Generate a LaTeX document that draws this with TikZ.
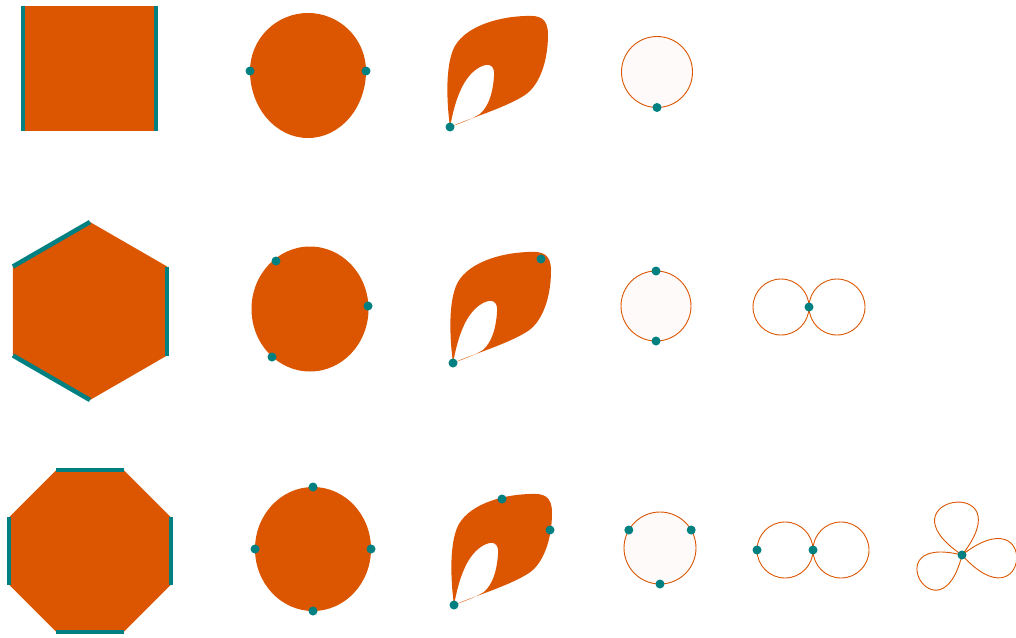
\documentclass[tikz,border=0pt]{standalone}
\usetikzlibrary{calc}

\definecolor{shapeorange}{RGB}{220,85,0}
\definecolor{edgeteal}{RGB}{0,128,128}
\definecolor{palefill}{RGB}{254,250,250}

\begin{document}
\begin{tikzpicture}[
    x=1pt, y=-1pt,
    solid/.style={
        fill=shapeorange
    },
    rim/.style={
        draw=edgeteal,
        line width=4.5pt
    },
    outline/.style={
        draw=shapeorange,
        line width=0.9pt
    },
    dot/.style={
        circle,
        fill=edgeteal,
        inner sep=0pt,
        minimum size=9pt
    }
]

\useasboundingbox (0,0) rectangle (1016,637);

% ------------------------------------------------------------------
% Polygons with marked edges
% ------------------------------------------------------------------

\coordinate (sqnw) at (23,6);
\coordinate (sqne) at (156,6);
\coordinate (sqse) at (156,131);
\coordinate (sqsw) at (23,131);

\fill[solid] (sqnw) rectangle (sqse);
\draw[rim] (sqnw) -- (sqsw);
\draw[rim] (sqne) -- (sqse);

\foreach \k in {0,...,5}
    \coordinate (hex\k) at ($(90,311)+({-90+60*\k}:89)$);

\fill[solid] (hex0) -- (hex1) -- (hex2) -- (hex3) -- (hex4) -- (hex5) -- cycle;
\draw[rim] (hex5) -- (hex0);
\draw[rim] (hex1) -- (hex2);
\draw[rim] (hex3) -- (hex4);

\foreach \k in {0,...,7}
    \coordinate (oct\k) at ($(90,551)+({22.5+45*\k}:87.7)$);

\fill[solid] (oct0) -- (oct1) -- (oct2) -- (oct3) -- (oct4) -- (oct5)
    -- (oct6) -- (oct7) -- cycle;
\draw[rim] (oct7) -- (oct0);
\draw[rim] (oct1) -- (oct2);
\draw[rim] (oct3) -- (oct4);
\draw[rim] (oct5) -- (oct6);

% ------------------------------------------------------------------
% Discs
% ------------------------------------------------------------------

\fill[solid] (250,71) .. controls (250,39) and (276,13) .. (308,13)
    .. controls (340,13) and (366,39) .. (366,71)
    .. controls (366,108) and (340,138) .. (308,138)
    .. controls (276,138) and (250,108) .. (250,71) -- cycle;
\node[dot] (discAw) at (250,71) {};
\node[dot] (discAe) at (366,71) {};

\fill[solid] (310,309) ellipse [x radius=58.5, y radius=62.5];
\node[dot] (discBnw) at (276,261) {};
\node[dot] (discBe) at (368,306) {};
\node[dot] (discBsw) at (272,357) {};

\fill[solid] (313,549) ellipse [x radius=58, y radius=62];
\node[dot] (discCn) at (313,487) {};
\node[dot] (discCw) at (255,549) {};
\node[dot] (discCe) at (371,549) {};
\node[dot] (discCs) at (313,611) {};

% ------------------------------------------------------------------
% Leaves with a hole
% ------------------------------------------------------------------

\foreach \dx/\dy/\row in {0/0/A, 3/236/B, 4/478/C} {
    \begin{scope}[shift={(\dx,\dy)}]
        \fill[solid, even odd rule]
            (450,127) .. controls (447,105) and (445,70) .. (453,50)
            .. controls (462,28) and (495,17) .. (525,16)
            .. controls (540,15) and (548,18) .. (548,35)
            .. controls (548,60) and (540,85) .. (525,95)
            .. controls (505,108) and (470,118) .. (450,127) -- cycle
            (450,127) .. controls (455,100) and (463,76) .. (480,67)
            .. controls (490,62) and (495,66) .. (494,76)
            .. controls (493,92) and (489,106) .. (480,114)
            .. controls (470,120) and (458,124) .. (450,127) -- cycle;
        \node[dot] (leaf\row tip) at (450,127) {};
    \end{scope}
}

\node[dot] (leafBne) at (541,259) {};
\node[dot] (leafCn) at (502,499) {};
\node[dot] (leafCe) at (550,530) {};

% ------------------------------------------------------------------
% Circles
% ------------------------------------------------------------------

\filldraw[outline, fill=palefill] (657,72) circle [radius=35.5];
\node[dot] (ringAs) at (657,107.5) {};

\filldraw[outline, fill=palefill] (656,306) circle [radius=35];
\node[dot] (ringBn) at (656,271) {};
\node[dot] (ringBs) at (656,341) {};

\filldraw[outline, fill=palefill] (660,548) circle [radius=36];
\node[dot] (ringCnw) at ($(660,548)+(-150:36)$) {};
\node[dot] (ringCne) at ($(660,548)+(-30:36)$) {};
\node[dot] (ringCs) at ($(660,548)+(90:36)$) {};

% ------------------------------------------------------------------
% Figure eights
% ------------------------------------------------------------------

\draw[outline] (781,307) circle [radius=28];
\draw[outline] (837,307) circle [radius=28];
\node[dot] (eightBmid) at (809,307) {};

\draw[outline] (785,550) circle [radius=28];
\draw[outline] (841,550) circle [radius=28];
\node[dot] (eightCw) at (757,550) {};
\node[dot] (eightCmid) at (813,550) {};

% ------------------------------------------------------------------
% Three-petal loop
% ------------------------------------------------------------------

\coordinate (clover) at (962,555);

\draw[outline, line join=round]
    (clover) .. controls +(-146:104) and +(-52:104) .. (clover)
    (clover) .. controls +(-38:100) and +(48:100) .. (clover)
    (clover) .. controls +(104:92) and +(194:92) .. (clover);
\node[dot] (cloverdot) at (clover) {};

\end{tikzpicture}
\end{document}
